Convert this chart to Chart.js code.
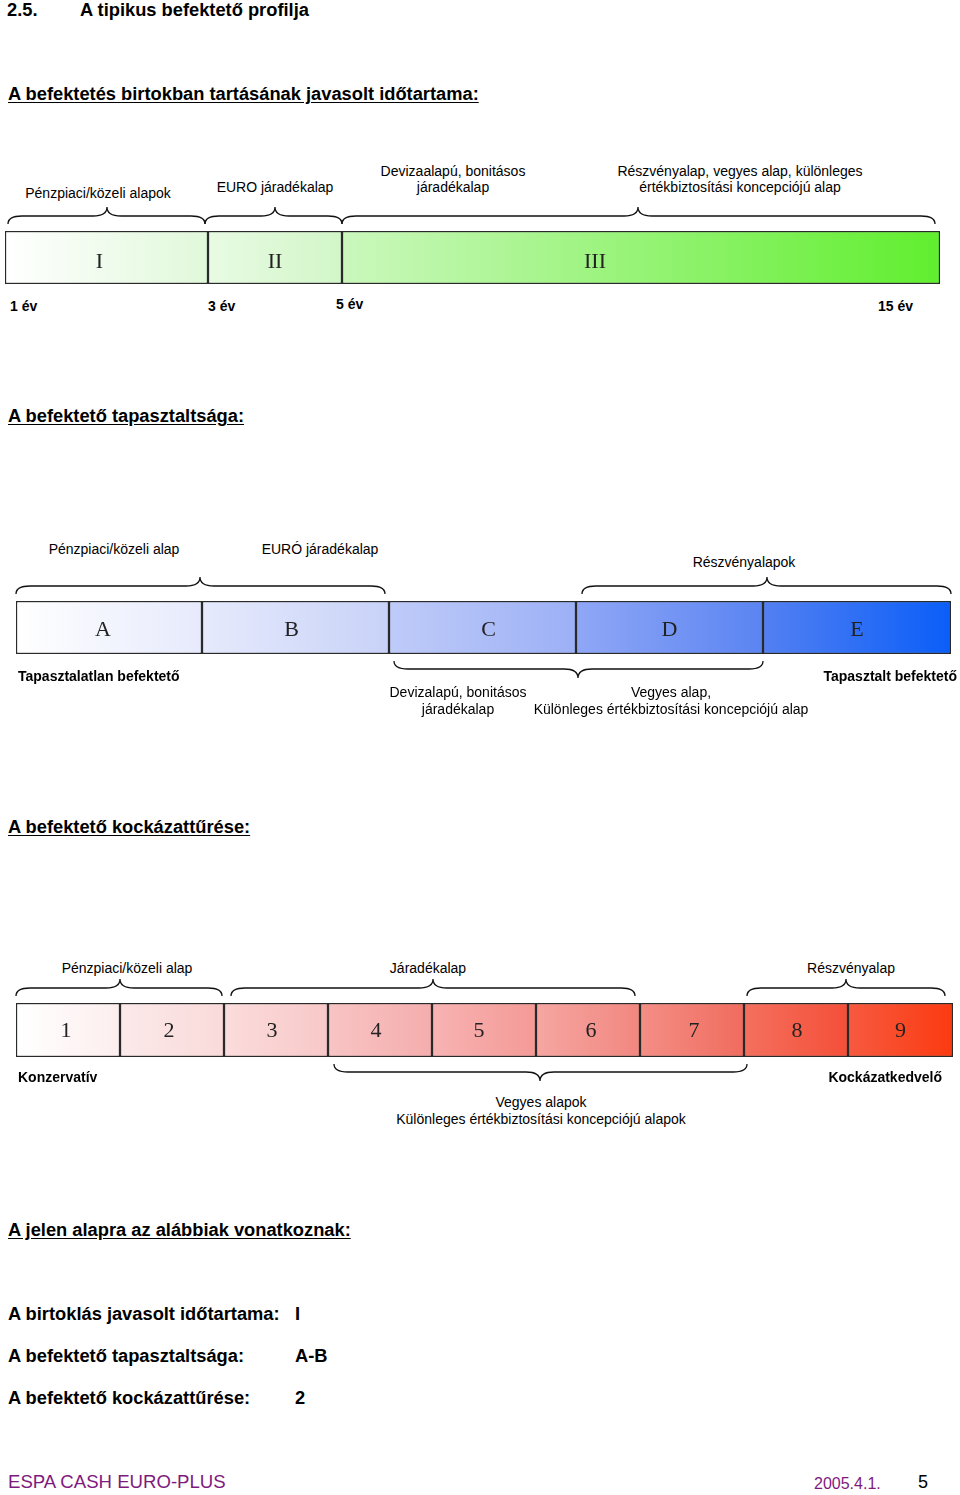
<!DOCTYPE html>
<html>
<head>
<meta charset="utf-8">
<script src="https://cdn.jsdelivr.net/npm/chart.js@4.4.1/dist/chart.umd.min.js"></script>
<style>
  html, body { margin: 0; padding: 0; background: #fff; }
  body { width: 960px; height: 1495px; position: relative; overflow: hidden;
         font-family: "Liberation Sans", Arial, sans-serif; color: #000; }
  .t { position: absolute; white-space: nowrap; }
  .h { font-size: 18.3px; font-weight: bold; line-height: 20px; }
  .u { text-decoration: underline; text-underline-offset: 2px; }
  .lbl { font-size: 14px; line-height: 16px; text-align: center; }
  .b { font-size: 14px; font-weight: bold; line-height: 16px; }
  .sum { font-size: 18.3px; font-weight: bold; line-height: 20px; }
  canvas { position: absolute; left: 0; }
  .foot { color: #7e1a7e; }
</style>
</head>
<body>

<!-- headings -->
<div class="t h" style="left:7px; top:0px;">2.5.</div>
<div class="t h" style="left:80px; top:0px;">A tipikus befektető profilja</div>
<div class="t h u" style="left:8px; top:84px;">A befektetés birtokban tartásának javasolt időtartama:</div>

<!-- chart 1 labels -->
<div class="t lbl" style="left:98px; top:185px; transform:translateX(-50%);">Pénzpiaci/közeli alapok</div>
<div class="t lbl" style="left:275px; top:179px; transform:translateX(-50%);">EURO járadékalap</div>
<div class="t lbl" style="left:453px; top:163px; transform:translateX(-50%);">Devizaalapú, bonitásos<br>járadékalap</div>
<div class="t lbl" style="left:740px; top:163px; transform:translateX(-50%);">Részvényalap, vegyes alap, különleges<br>értékbiztosítási koncepciójú alap</div>
<canvas id="holdChart" style="top:195px;" width="960" height="95"></canvas>
<div class="t b" style="left:10px; top:298px;">1 év</div>
<div class="t b" style="left:208px; top:298px;">3 év</div>
<div class="t b" style="left:336px; top:296px;">5 év</div>
<div class="t b" style="left:878px; top:298px;">15 év</div>

<!-- chart 2 -->
<div class="t h u" style="left:8px; top:406px;">A befektető tapasztaltsága:</div>
<div class="t lbl" style="left:114px; top:541px; transform:translateX(-50%);">Pénzpiaci/közeli alap</div>
<div class="t lbl" style="left:320px; top:541px; transform:translateX(-50%);">EURÓ járadékalap</div>
<div class="t lbl" style="left:744px; top:554px; transform:translateX(-50%);">Részvényalapok</div>
<canvas id="expChart" style="top:568px;" width="960" height="122"></canvas>
<div class="t b" style="left:18px; top:668px;">Tapasztalatlan befektető</div>
<div class="t b" style="right:3px; top:668px;">Tapasztalt befektető</div>
<div class="t lbl" style="left:458px; top:684px; line-height:17px; transform:translateX(-50%);">Devizalapú, bonitásos<br>járadékalap</div>
<div class="t lbl" style="left:671px; top:684px; line-height:17px; transform:translateX(-50%);">Vegyes alap,<br>Különleges értékbiztosítási koncepciójú alap</div>

<!-- chart 3 -->
<div class="t h u" style="left:8px; top:817px;">A befektető kockázattűrése:</div>
<div class="t lbl" style="left:127px; top:960px; transform:translateX(-50%);">Pénzpiaci/közeli alap</div>
<div class="t lbl" style="left:428px; top:960px; transform:translateX(-50%);">Járadékalap</div>
<div class="t lbl" style="left:851px; top:960px; transform:translateX(-50%);">Részvényalap</div>
<canvas id="riskChart" style="top:972px;" width="960" height="120"></canvas>
<div class="t b" style="left:18px; top:1069px;">Konzervatív</div>
<div class="t b" style="right:18px; top:1069px;">Kockázatkedvelő</div>
<div class="t lbl" style="left:541px; top:1094px; line-height:17px; transform:translateX(-50%);">Vegyes alapok<br>Különleges értékbiztosítási koncepciójú alapok</div>

<!-- summary -->
<div class="t h u" style="left:8px; top:1220px;">A jelen alapra az alábbiak vonatkoznak:</div>
<div class="t sum" style="left:8px; top:1304px;">A birtoklás javasolt időtartama:</div>
<div class="t sum" style="left:295px; top:1304px;">I</div>
<div class="t sum" style="left:8px; top:1346px;">A befektető tapasztaltsága:</div>
<div class="t sum" style="left:295px; top:1346px;">A-B</div>
<div class="t sum" style="left:8px; top:1388px;">A befektető kockázattűrése:</div>
<div class="t sum" style="left:295px; top:1388px;">2</div>

<!-- footer -->
<div class="t foot" style="left:8px; top:1472px; font-size:18.6px; line-height:20px;">ESPA CASH EURO-PLUS</div>
<div class="t foot" style="left:814px; top:1474px; font-size:16px; line-height:20px;">2005.4.1.</div>
<div class="t" style="left:918px; top:1472px; font-size:18px; line-height:20px;">5</div>

<script>
// --- data: segment widths (in px-like units along each bar) ---
const holdLabels = ['I', 'II', 'III'];
const holdWidths = [203, 134, 598];
const holdColors = [['#ffffff', '#e0f8da'], ['#e8fbe3', '#d2f6c8'], ['#cbf8bd', '#60ee2e']];
const holdBraces = [[3, 102, 200], [200, 270, 337], [337, 633, 930]]; // start, tip, end
const holdBracesBelow = [];

const expLabels = ['A', 'B', 'C', 'D', 'E'];
const expWidths = [186, 187, 187, 187, 188];
const expColors = [['#ffffff', '#e6eafc'], ['#e6eafc', '#c8d2f8'], ['#bfcbf8', '#9cb0f6'],
                   ['#90a7f6', '#5a84f2'], ['#5380f2', '#0a5ef8']];
const expBraces = [[0, 184, 369], [566, 751, 935]];
const expBracesBelow = [[378, 562, 747]];

const riskLabels = ['1', '2', '3', '4', '5', '6', '7', '8', '9'];
const riskWidths = [104, 104, 104, 104, 104, 104, 104, 104, 105];
const riskColors = [['#ffffff', '#fdeeee'], ['#fbe9e9', '#fadada'], ['#fbdcdc', '#f8c8c8'],
                    ['#f8c4c4', '#f5adad'], ['#f7b3b3', '#f49a96'], ['#f6a6a2', '#f1877f'],
                    ['#f48e86', '#f06c5e'], ['#f4705e', '#f44f38'], ['#f65a40', '#fc3a10']];
const riskBraces = [[0, 104, 206], [215, 417, 619], [731, 830, 929]];
const riskBracesBelow = [[318, 524, 731]];

// draws a curly brace; dir = 1 tip up (above bar), dir = -1 tip down (below bar)
function drawBrace(ctx, x0, xt, x1, y, dir) {
  const r = 14, e = 8, t = 9;
  ctx.beginPath();
  ctx.moveTo(x0, y + dir * e);
  ctx.quadraticCurveTo(x0, y, x0 + r, y);
  ctx.lineTo(xt - r, y);
  ctx.quadraticCurveTo(xt, y, xt, y - dir * t);
  ctx.quadraticCurveTo(xt, y, xt + r, y);
  ctx.lineTo(x1 - r, y);
  ctx.quadraticCurveTo(x1, y, x1, y + dir * e);
  ctx.stroke();
}

const scalePlugin = {
  id: 'scaleDecor',
  afterDatasetsDraw(chart, args, opts) {
    const ctx = chart.ctx, xs = chart.scales.x, area = chart.chartArea;
    ctx.save();
    // segment letters
    ctx.fillStyle = '#222';
    ctx.font = '22px "Liberation Serif", "Times New Roman", serif';
    ctx.textAlign = 'center';
    ctx.textBaseline = 'middle';
    let acc = 0;
    opts.widths.forEach((w, i) => {
      const cx = xs.getPixelForValue(acc + w / 2) + (opts.labelShift[i] || 0);
      ctx.fillText(opts.labels[i], cx, (area.top + area.bottom) / 2 + 1 + opts.labelDy);
      acc += w;
    });
    // braces
    ctx.strokeStyle = '#111';
    ctx.lineWidth = 1.3;
    opts.above.forEach(b => drawBrace(ctx, xs.getPixelForValue(b[0]), xs.getPixelForValue(b[1]),
                                      xs.getPixelForValue(b[2]), area.top - 15, 1));
    opts.below.forEach(b => drawBrace(ctx, xs.getPixelForValue(b[0]), xs.getPixelForValue(b[1]),
                                      xs.getPixelForValue(b[2]), area.bottom + 15, -1));
    ctx.restore();
  }
};

function makeScale(id, labels, widths, colors, above, below, padding, labelShift, labelDy) {
  let start = 0;
  const datasets = widths.map((w, i) => {
    const s = start;
    start += w;
    return {
      label: labels[i],
      data: [w],
      borderColor: '#2a2a2a',
      borderWidth: 1.5,
      borderSkipped: false,
      backgroundColor: (c) => {
        const xs = c.chart.scales.x;
        if (!xs || !c.chart.chartArea) return colors[i][0];
        const g = c.chart.ctx.createLinearGradient(xs.getPixelForValue(s), 0, xs.getPixelForValue(s + w), 0);
        g.addColorStop(0, colors[i][0]);
        g.addColorStop(1, colors[i][1]);
        return g;
      },
      barPercentage: 1,
      categoryPercentage: 1
    };
  });
  const total = widths.reduce((a, b) => a + b, 0);
  new Chart(document.getElementById(id), {
    type: 'bar',
    data: { labels: [''], datasets },
    options: {
      indexAxis: 'y',
      responsive: false,
      animation: false,
      layout: { padding },
      plugins: {
        legend: { display: false },
        tooltip: { enabled: false },
        scaleDecor: { labels, widths, above, below, labelShift: labelShift || [], labelDy: labelDy || 0 }
      },
      scales: {
        x: { stacked: true, min: 0, max: total, display: false },
        y: { stacked: true, display: false }
      }
    },
    plugins: [scalePlugin]
  });
}

makeScale('holdChart', holdLabels, holdWidths, holdColors, holdBraces, holdBracesBelow,
          { left: 5, right: 20, top: 36, bottom: 6 }, [-7, 0, -46], 4);
makeScale('expChart', expLabels, expWidths, expColors, expBraces, expBracesBelow,
          { left: 16, right: 9, top: 33, bottom: 36 }, [-6, -4, 6, 0, 0], 2);
makeScale('riskChart', riskLabels, riskWidths, riskColors, riskBraces, riskBracesBelow,
          { left: 16, right: 7, top: 31, bottom: 35 }, [-2, -3, -4, -4, -5, 3, 2, 1, 0], 0);
</script>
</body>
</html>
